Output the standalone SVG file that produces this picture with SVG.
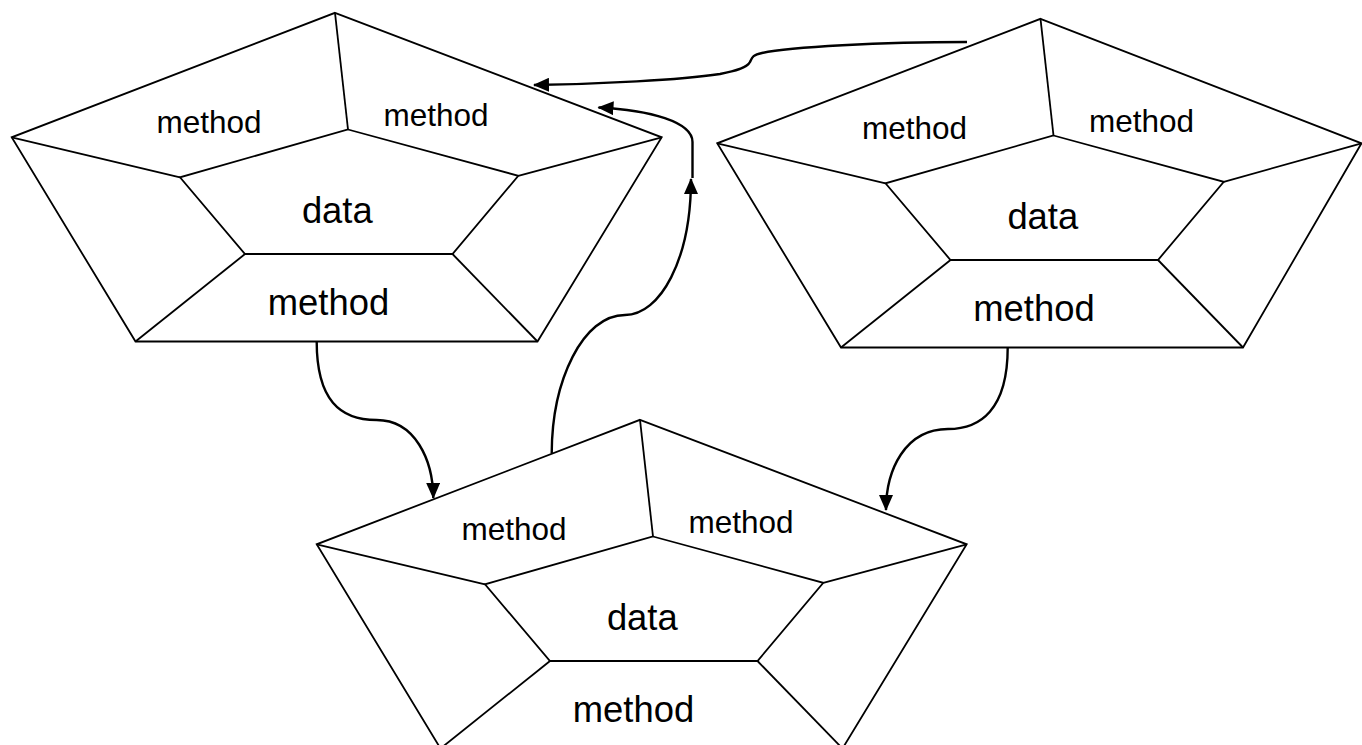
<svg xmlns="http://www.w3.org/2000/svg" xmlns:xlink="http://www.w3.org/1999/xlink" width="1362" height="745" viewBox="0 0 1362 745">
  <style>
    .frame { fill: none; stroke: #000; stroke-width: 1.8; stroke-linejoin: miter; }
    .label { font-family: "Liberation Sans", Arial, sans-serif; fill: #000; text-anchor: middle; }
    .small { font-size: 31.5px; }
    .large { font-size: 36.4px; }
    .edge { fill: none; stroke: #000; stroke-width: 2.4; }
  </style>
  <defs>
    <marker id="arrow" markerUnits="userSpaceOnUse" markerWidth="16" markerHeight="14"
            viewBox="0 0 16 14" refX="15" refY="7" orient="auto">
      <path d="M0,0 L16,7 L0,14 z" fill="#000"/>
    </marker>
    <!-- spokes and inner ring shared by every class shape -->
    <g id="core">
      <polygon class="frame" points="348,129.5 518.3,175.8 452.5,254 245,254 180,177.3"/>
      <line class="frame" x1="335" y1="12.8" x2="348" y2="129.5"/>
      <line class="frame" x1="11.7" y1="137.3" x2="180" y2="177.3"/>
      <line class="frame" x1="135.5" y1="341.5" x2="245" y2="254"/>
      <line class="frame" x1="537.5" y1="341.5" x2="452.5" y2="254"/>
    </g>
    <g id="labels">
      <text class="label small" x="209" y="133.3">method</text>
      <text class="label small" x="436" y="125.7">method</text>
      <text class="label large" x="337.3" y="223.3">data</text>
      <text class="label large" x="328.5" y="315">method</text>
    </g>
  </defs>

  <rect width="1362" height="745" fill="#fff"/>

  <g id="object-a">
    <polygon class="frame" points="335,12.8 661.7,137.3 537.5,341.5 135.5,341.5 11.7,137.3" fill="#fff"/>
    <use xlink:href="#core"/>
    <line class="frame" x1="661.7" y1="137.3" x2="518.3" y2="175.8"/>
    <use xlink:href="#labels"/>
  </g>

  <g id="object-b" transform="translate(705.5,6)">
    <polygon class="frame" points="335,12.8 656,137.3 537.5,341.5 135.5,341.5 11.7,137.3" fill="#fff"/>
    <use xlink:href="#core"/>
    <line class="frame" x1="656" y1="137.3" x2="518.3" y2="175.8"/>
    <use xlink:href="#labels"/>
  </g>

  <g id="object-c" transform="translate(305,407)">
    <polygon class="frame" points="335,12.8 661.7,137.3 537.5,341.5 135.5,341.5 11.7,137.3" fill="#fff"/>
    <use xlink:href="#core"/>
    <line class="frame" x1="661.7" y1="137.3" x2="518.3" y2="175.8"/>
    <use xlink:href="#labels"/>
  </g>

  <g id="connectors">
    <!-- object-b to object-a -->
    <path class="edge" marker-end="url(#arrow)"
          d="M967,42 C880,42 790,47 762,53 C752,55 752,58 750,62 C747,68 735,71 720,74 C680,80 600,84 534,85"/>
    <!-- object-c up the middle -->
    <path class="edge" marker-end="url(#arrow)"
          d="M551.7,453.3 C552,380 583,315 625,315 C660,315 691,260 691,179"/>
    <!-- continuation into object-a -->
    <path class="edge" marker-end="url(#arrow)"
          d="M692.5,178 L692.5,142 C692.5,122 650,110 598.5,107.5"/>
    <!-- object-a down to object-c -->
    <path class="edge" marker-end="url(#arrow)"
          d="M316.7,341.5 C316.7,400 340,420 376.7,420 C415,420 433,460 433.3,498"/>
    <!-- object-b down to object-c -->
    <path class="edge" marker-end="url(#arrow)"
          d="M1007.7,347.5 C1007.7,410 980,429 948,429 C905,429 886,470 886,510"/>
  </g>
</svg>
